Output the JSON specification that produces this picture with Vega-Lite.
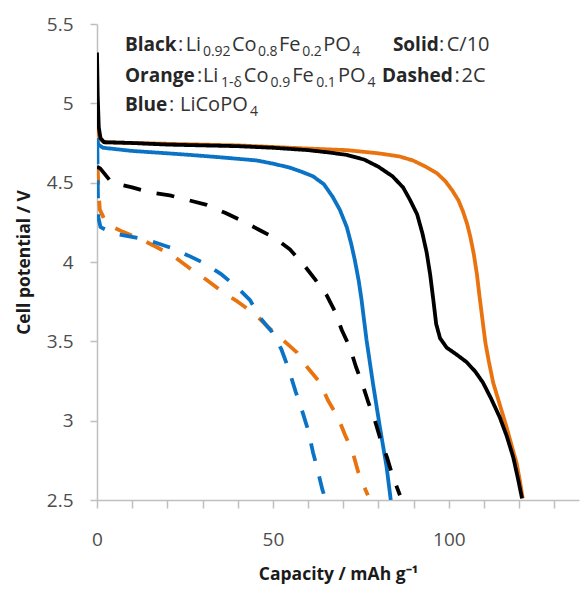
{
  "$schema": "https://vega.github.io/schema/vega-lite/v6.json",
  "width": 482,
  "height": 476,
  "autosize": {"type": "none"},
  "padding": {"left": 97, "top": 24, "right": 2, "bottom": 89},
  "config": {"view": {"stroke": null}, "font": "Open Sans"},
  "datasets": {
    "curves": [
      {"id": "orange-solid", "series": "orange", "rate": "C/10", "x": 0, "y": 4.98},
      {"id": "orange-solid", "series": "orange", "rate": "C/10", "x": 0.3, "y": 4.82},
      {"id": "orange-solid", "series": "orange", "rate": "C/10", "x": 1, "y": 4.77},
      {"id": "orange-solid", "series": "orange", "rate": "C/10", "x": 2, "y": 4.755},
      {"id": "orange-solid", "series": "orange", "rate": "C/10", "x": 10, "y": 4.75},
      {"id": "orange-solid", "series": "orange", "rate": "C/10", "x": 20, "y": 4.745},
      {"id": "orange-solid", "series": "orange", "rate": "C/10", "x": 30, "y": 4.74},
      {"id": "orange-solid", "series": "orange", "rate": "C/10", "x": 40, "y": 4.735},
      {"id": "orange-solid", "series": "orange", "rate": "C/10", "x": 50, "y": 4.725},
      {"id": "orange-solid", "series": "orange", "rate": "C/10", "x": 60, "y": 4.715},
      {"id": "orange-solid", "series": "orange", "rate": "C/10", "x": 71, "y": 4.705},
      {"id": "orange-solid", "series": "orange", "rate": "C/10", "x": 80, "y": 4.685},
      {"id": "orange-solid", "series": "orange", "rate": "C/10", "x": 86, "y": 4.665},
      {"id": "orange-solid", "series": "orange", "rate": "C/10", "x": 89.8, "y": 4.64},
      {"id": "orange-solid", "series": "orange", "rate": "C/10", "x": 93.5, "y": 4.6},
      {"id": "orange-solid", "series": "orange", "rate": "C/10", "x": 96.6, "y": 4.56},
      {"id": "orange-solid", "series": "orange", "rate": "C/10", "x": 99, "y": 4.51},
      {"id": "orange-solid", "series": "orange", "rate": "C/10", "x": 101, "y": 4.45},
      {"id": "orange-solid", "series": "orange", "rate": "C/10", "x": 102.7, "y": 4.39},
      {"id": "orange-solid", "series": "orange", "rate": "C/10", "x": 104, "y": 4.32},
      {"id": "orange-solid", "series": "orange", "rate": "C/10", "x": 105.2, "y": 4.24},
      {"id": "orange-solid", "series": "orange", "rate": "C/10", "x": 106.1, "y": 4.16},
      {"id": "orange-solid", "series": "orange", "rate": "C/10", "x": 107.1, "y": 4.05},
      {"id": "orange-solid", "series": "orange", "rate": "C/10", "x": 108, "y": 3.92},
      {"id": "orange-solid", "series": "orange", "rate": "C/10", "x": 108.8, "y": 3.77},
      {"id": "orange-solid", "series": "orange", "rate": "C/10", "x": 109.6, "y": 3.63},
      {"id": "orange-solid", "series": "orange", "rate": "C/10", "x": 110.4, "y": 3.49},
      {"id": "orange-solid", "series": "orange", "rate": "C/10", "x": 111.4, "y": 3.37},
      {"id": "orange-solid", "series": "orange", "rate": "C/10", "x": 112.6, "y": 3.24},
      {"id": "orange-solid", "series": "orange", "rate": "C/10", "x": 114.5, "y": 3.1},
      {"id": "orange-solid", "series": "orange", "rate": "C/10", "x": 116.4, "y": 2.96},
      {"id": "orange-solid", "series": "orange", "rate": "C/10", "x": 117.9, "y": 2.84},
      {"id": "orange-solid", "series": "orange", "rate": "C/10", "x": 119.3, "y": 2.73},
      {"id": "orange-solid", "series": "orange", "rate": "C/10", "x": 120.2, "y": 2.62},
      {"id": "orange-solid", "series": "orange", "rate": "C/10", "x": 121, "y": 2.51},

      {"id": "blue-solid", "series": "blue", "rate": "C/10", "x": 0, "y": 4.78},
      {"id": "blue-solid", "series": "blue", "rate": "C/10", "x": 0.4, "y": 4.74},
      {"id": "blue-solid", "series": "blue", "rate": "C/10", "x": 1.7, "y": 4.72},
      {"id": "blue-solid", "series": "blue", "rate": "C/10", "x": 10, "y": 4.7},
      {"id": "blue-solid", "series": "blue", "rate": "C/10", "x": 20, "y": 4.685},
      {"id": "blue-solid", "series": "blue", "rate": "C/10", "x": 26.4, "y": 4.675},
      {"id": "blue-solid", "series": "blue", "rate": "C/10", "x": 35, "y": 4.66},
      {"id": "blue-solid", "series": "blue", "rate": "C/10", "x": 45.4, "y": 4.64},
      {"id": "blue-solid", "series": "blue", "rate": "C/10", "x": 50, "y": 4.62},
      {"id": "blue-solid", "series": "blue", "rate": "C/10", "x": 54.8, "y": 4.595},
      {"id": "blue-solid", "series": "blue", "rate": "C/10", "x": 58, "y": 4.57},
      {"id": "blue-solid", "series": "blue", "rate": "C/10", "x": 61.4, "y": 4.54},
      {"id": "blue-solid", "series": "blue", "rate": "C/10", "x": 64.5, "y": 4.49},
      {"id": "blue-solid", "series": "blue", "rate": "C/10", "x": 67, "y": 4.41},
      {"id": "blue-solid", "series": "blue", "rate": "C/10", "x": 69, "y": 4.33},
      {"id": "blue-solid", "series": "blue", "rate": "C/10", "x": 71, "y": 4.22},
      {"id": "blue-solid", "series": "blue", "rate": "C/10", "x": 72.3, "y": 4.11},
      {"id": "blue-solid", "series": "blue", "rate": "C/10", "x": 73.3, "y": 4.01},
      {"id": "blue-solid", "series": "blue", "rate": "C/10", "x": 74.4, "y": 3.88},
      {"id": "blue-solid", "series": "blue", "rate": "C/10", "x": 75.2, "y": 3.76},
      {"id": "blue-solid", "series": "blue", "rate": "C/10", "x": 76.6, "y": 3.51},
      {"id": "blue-solid", "series": "blue", "rate": "C/10", "x": 78.4, "y": 3.24},
      {"id": "blue-solid", "series": "blue", "rate": "C/10", "x": 80.4, "y": 2.96},
      {"id": "blue-solid", "series": "blue", "rate": "C/10", "x": 82.3, "y": 2.71},
      {"id": "blue-solid", "series": "blue", "rate": "C/10", "x": 83.5, "y": 2.5},

      {"id": "black-solid", "series": "black", "rate": "C/10", "x": 0, "y": 5.32},
      {"id": "black-solid", "series": "black", "rate": "C/10", "x": 0.2, "y": 5.05},
      {"id": "black-solid", "series": "black", "rate": "C/10", "x": 0.5, "y": 4.85},
      {"id": "black-solid", "series": "black", "rate": "C/10", "x": 1, "y": 4.78},
      {"id": "black-solid", "series": "black", "rate": "C/10", "x": 2, "y": 4.755},
      {"id": "black-solid", "series": "black", "rate": "C/10", "x": 10, "y": 4.75},
      {"id": "black-solid", "series": "black", "rate": "C/10", "x": 20, "y": 4.74},
      {"id": "black-solid", "series": "black", "rate": "C/10", "x": 30, "y": 4.735},
      {"id": "black-solid", "series": "black", "rate": "C/10", "x": 40, "y": 4.73},
      {"id": "black-solid", "series": "black", "rate": "C/10", "x": 50, "y": 4.72},
      {"id": "black-solid", "series": "black", "rate": "C/10", "x": 60, "y": 4.705},
      {"id": "black-solid", "series": "black", "rate": "C/10", "x": 66, "y": 4.69},
      {"id": "black-solid", "series": "black", "rate": "C/10", "x": 71, "y": 4.675},
      {"id": "black-solid", "series": "black", "rate": "C/10", "x": 76, "y": 4.645},
      {"id": "black-solid", "series": "black", "rate": "C/10", "x": 80, "y": 4.6},
      {"id": "black-solid", "series": "black", "rate": "C/10", "x": 84, "y": 4.54},
      {"id": "black-solid", "series": "black", "rate": "C/10", "x": 87, "y": 4.47},
      {"id": "black-solid", "series": "black", "rate": "C/10", "x": 89, "y": 4.39},
      {"id": "black-solid", "series": "black", "rate": "C/10", "x": 91, "y": 4.3},
      {"id": "black-solid", "series": "black", "rate": "C/10", "x": 92.5, "y": 4.18},
      {"id": "black-solid", "series": "black", "rate": "C/10", "x": 93.7, "y": 4.06},
      {"id": "black-solid", "series": "black", "rate": "C/10", "x": 94.7, "y": 3.92},
      {"id": "black-solid", "series": "black", "rate": "C/10", "x": 95.6, "y": 3.76},
      {"id": "black-solid", "series": "black", "rate": "C/10", "x": 96.4, "y": 3.61},
      {"id": "black-solid", "series": "black", "rate": "C/10", "x": 97.5, "y": 3.52},
      {"id": "black-solid", "series": "black", "rate": "C/10", "x": 99.4, "y": 3.46},
      {"id": "black-solid", "series": "black", "rate": "C/10", "x": 102, "y": 3.42},
      {"id": "black-solid", "series": "black", "rate": "C/10", "x": 105, "y": 3.37},
      {"id": "black-solid", "series": "black", "rate": "C/10", "x": 107.5, "y": 3.31},
      {"id": "black-solid", "series": "black", "rate": "C/10", "x": 109.7, "y": 3.24},
      {"id": "black-solid", "series": "black", "rate": "C/10", "x": 112, "y": 3.14},
      {"id": "black-solid", "series": "black", "rate": "C/10", "x": 114.5, "y": 3.02},
      {"id": "black-solid", "series": "black", "rate": "C/10", "x": 116.5, "y": 2.9},
      {"id": "black-solid", "series": "black", "rate": "C/10", "x": 118.3, "y": 2.77},
      {"id": "black-solid", "series": "black", "rate": "C/10", "x": 119.7, "y": 2.63},
      {"id": "black-solid", "series": "black", "rate": "C/10", "x": 120.8, "y": 2.51},

      {"id": "orange-dashed", "series": "orange", "rate": "2C", "x": 0.2, "y": 4.6},
      {"id": "orange-dashed", "series": "orange", "rate": "2C", "x": 0.4, "y": 4.45},
      {"id": "orange-dashed", "series": "orange", "rate": "2C", "x": 0.8, "y": 4.33},
      {"id": "orange-dashed", "series": "orange", "rate": "2C", "x": 2.3, "y": 4.26},
      {"id": "orange-dashed", "series": "orange", "rate": "2C", "x": 4.5, "y": 4.22},
      {"id": "orange-dashed", "series": "orange", "rate": "2C", "x": 7.4, "y": 4.19},
      {"id": "orange-dashed", "series": "orange", "rate": "2C", "x": 12.8, "y": 4.14},
      {"id": "orange-dashed", "series": "orange", "rate": "2C", "x": 17.3, "y": 4.09},
      {"id": "orange-dashed", "series": "orange", "rate": "2C", "x": 22.2, "y": 4.03},
      {"id": "orange-dashed", "series": "orange", "rate": "2C", "x": 27, "y": 3.95},
      {"id": "orange-dashed", "series": "orange", "rate": "2C", "x": 31, "y": 3.89},
      {"id": "orange-dashed", "series": "orange", "rate": "2C", "x": 35.8, "y": 3.81},
      {"id": "orange-dashed", "series": "orange", "rate": "2C", "x": 40, "y": 3.75},
      {"id": "orange-dashed", "series": "orange", "rate": "2C", "x": 45, "y": 3.67},
      {"id": "orange-dashed", "series": "orange", "rate": "2C", "x": 48.6, "y": 3.59},
      {"id": "orange-dashed", "series": "orange", "rate": "2C", "x": 52.8, "y": 3.51},
      {"id": "orange-dashed", "series": "orange", "rate": "2C", "x": 56.8, "y": 3.43},
      {"id": "orange-dashed", "series": "orange", "rate": "2C", "x": 60, "y": 3.33},
      {"id": "orange-dashed", "series": "orange", "rate": "2C", "x": 63.4, "y": 3.24},
      {"id": "orange-dashed", "series": "orange", "rate": "2C", "x": 65.6, "y": 3.13},
      {"id": "orange-dashed", "series": "orange", "rate": "2C", "x": 68.5, "y": 3.02},
      {"id": "orange-dashed", "series": "orange", "rate": "2C", "x": 70.5, "y": 2.91},
      {"id": "orange-dashed", "series": "orange", "rate": "2C", "x": 72.7, "y": 2.8},
      {"id": "orange-dashed", "series": "orange", "rate": "2C", "x": 74.2, "y": 2.68},
      {"id": "orange-dashed", "series": "orange", "rate": "2C", "x": 76.4, "y": 2.56},
      {"id": "orange-dashed", "series": "orange", "rate": "2C", "x": 77, "y": 2.53},

      {"id": "blue-dashed", "series": "blue", "rate": "2C", "x": 0.1, "y": 4.73},
      {"id": "blue-dashed", "series": "blue", "rate": "2C", "x": 0.2, "y": 4.5},
      {"id": "blue-dashed", "series": "blue", "rate": "2C", "x": 0.4, "y": 4.28},
      {"id": "blue-dashed", "series": "blue", "rate": "2C", "x": 1, "y": 4.22},
      {"id": "blue-dashed", "series": "blue", "rate": "2C", "x": 4.5, "y": 4.18},
      {"id": "blue-dashed", "series": "blue", "rate": "2C", "x": 12, "y": 4.15},
      {"id": "blue-dashed", "series": "blue", "rate": "2C", "x": 15.6, "y": 4.13},
      {"id": "blue-dashed", "series": "blue", "rate": "2C", "x": 21, "y": 4.09},
      {"id": "blue-dashed", "series": "blue", "rate": "2C", "x": 26, "y": 4.04},
      {"id": "blue-dashed", "series": "blue", "rate": "2C", "x": 30.7, "y": 3.99},
      {"id": "blue-dashed", "series": "blue", "rate": "2C", "x": 35.5, "y": 3.92},
      {"id": "blue-dashed", "series": "blue", "rate": "2C", "x": 39.8, "y": 3.84},
      {"id": "blue-dashed", "series": "blue", "rate": "2C", "x": 43.5, "y": 3.76},
      {"id": "blue-dashed", "series": "blue", "rate": "2C", "x": 46.3, "y": 3.65},
      {"id": "blue-dashed", "series": "blue", "rate": "2C", "x": 49.7, "y": 3.56},
      {"id": "blue-dashed", "series": "blue", "rate": "2C", "x": 52.4, "y": 3.45},
      {"id": "blue-dashed", "series": "blue", "rate": "2C", "x": 54.4, "y": 3.33},
      {"id": "blue-dashed", "series": "blue", "rate": "2C", "x": 56.5, "y": 3.18},
      {"id": "blue-dashed", "series": "blue", "rate": "2C", "x": 58.2, "y": 3.07},
      {"id": "blue-dashed", "series": "blue", "rate": "2C", "x": 60, "y": 2.94},
      {"id": "blue-dashed", "series": "blue", "rate": "2C", "x": 61.4, "y": 2.8},
      {"id": "blue-dashed", "series": "blue", "rate": "2C", "x": 62.7, "y": 2.69},
      {"id": "blue-dashed", "series": "blue", "rate": "2C", "x": 64, "y": 2.57},
      {"id": "blue-dashed", "series": "blue", "rate": "2C", "x": 65, "y": 2.5},

      {"id": "black-dashed", "series": "black", "rate": "2C", "x": 0, "y": 4.6},
      {"id": "black-dashed", "series": "black", "rate": "2C", "x": 0.9, "y": 4.59},
      {"id": "black-dashed", "series": "black", "rate": "2C", "x": 4.2, "y": 4.5},
      {"id": "black-dashed", "series": "black", "rate": "2C", "x": 10, "y": 4.47},
      {"id": "black-dashed", "series": "black", "rate": "2C", "x": 15, "y": 4.44},
      {"id": "black-dashed", "series": "black", "rate": "2C", "x": 20.7, "y": 4.42},
      {"id": "black-dashed", "series": "black", "rate": "2C", "x": 25.9, "y": 4.39},
      {"id": "black-dashed", "series": "black", "rate": "2C", "x": 31.2, "y": 4.36},
      {"id": "black-dashed", "series": "black", "rate": "2C", "x": 36.4, "y": 4.31},
      {"id": "black-dashed", "series": "black", "rate": "2C", "x": 41.2, "y": 4.26},
      {"id": "black-dashed", "series": "black", "rate": "2C", "x": 46.3, "y": 4.2},
      {"id": "black-dashed", "series": "black", "rate": "2C", "x": 50.6, "y": 4.15},
      {"id": "black-dashed", "series": "black", "rate": "2C", "x": 54.8, "y": 4.08},
      {"id": "black-dashed", "series": "black", "rate": "2C", "x": 58.5, "y": 3.99},
      {"id": "black-dashed", "series": "black", "rate": "2C", "x": 62, "y": 3.89},
      {"id": "black-dashed", "series": "black", "rate": "2C", "x": 65.3, "y": 3.79},
      {"id": "black-dashed", "series": "black", "rate": "2C", "x": 67.6, "y": 3.69},
      {"id": "black-dashed", "series": "black", "rate": "2C", "x": 69.6, "y": 3.57},
      {"id": "black-dashed", "series": "black", "rate": "2C", "x": 71.9, "y": 3.46},
      {"id": "black-dashed", "series": "black", "rate": "2C", "x": 73.6, "y": 3.34},
      {"id": "black-dashed", "series": "black", "rate": "2C", "x": 75.6, "y": 3.22},
      {"id": "black-dashed", "series": "black", "rate": "2C", "x": 77.2, "y": 3.11},
      {"id": "black-dashed", "series": "black", "rate": "2C", "x": 79, "y": 3.0},
      {"id": "black-dashed", "series": "black", "rate": "2C", "x": 80.6, "y": 2.88},
      {"id": "black-dashed", "series": "black", "rate": "2C", "x": 82.4, "y": 2.77},
      {"id": "black-dashed", "series": "black", "rate": "2C", "x": 83.9, "y": 2.66},
      {"id": "black-dashed", "series": "black", "rate": "2C", "x": 86.1, "y": 2.53}
    ],
    "notes": [
      {"k": "b", "x": 7.95, "y": 5.328, "t": "Black"},
      {"k": "n", "x": 23.0, "y": 5.328, "t": ":"},
      {"k": "n", "x": 25.2, "y": 5.328, "t": "Li"},
      {"k": "s", "x": 30.11, "y": 5.328, "t": "0.92"},
      {"k": "n", "x": 38.35, "y": 5.328, "t": "Co"},
      {"k": "s", "x": 45.74, "y": 5.328, "t": "0.8"},
      {"k": "n", "x": 51.7, "y": 5.328, "t": "Fe"},
      {"k": "s", "x": 58.32, "y": 5.328, "t": "0.2"},
      {"k": "n", "x": 64.29, "y": 5.328, "t": "PO"},
      {"k": "s", "x": 72.53, "y": 5.328, "t": "4"},
      {"k": "b", "x": 84.1, "y": 5.328, "t": "Solid"},
      {"k": "n", "x": 97.2, "y": 5.328, "t": ":"},
      {"k": "n", "x": 99.4, "y": 5.328, "t": "C/10"},
      {"k": "b", "x": 7.95, "y": 5.1326, "t": "Orange"},
      {"k": "n", "x": 28.4, "y": 5.1326, "t": ":"},
      {"k": "n", "x": 30.11, "y": 5.1326, "t": "Li"},
      {"k": "s", "x": 35.23, "y": 5.1326, "t": "1-δ"},
      {"k": "n", "x": 41.73, "y": 5.1326, "t": "Co"},
      {"k": "s", "x": 49.32, "y": 5.1326, "t": "0.9"},
      {"k": "n", "x": 55.48, "y": 5.1326, "t": "Fe"},
      {"k": "s", "x": 62.3, "y": 5.1326, "t": "0.1"},
      {"k": "n", "x": 68.47, "y": 5.1326, "t": "PO"},
      {"k": "s", "x": 76.9, "y": 5.1326, "t": "4"},
      {"k": "b", "x": 81.0, "y": 5.1326, "t": "Dashed"},
      {"k": "n", "x": 101.6, "y": 5.1326, "t": ":"},
      {"k": "n", "x": 103.6, "y": 5.1326, "t": "2C"},
      {"k": "b", "x": 7.95, "y": 4.9498, "t": "Blue"},
      {"k": "n", "x": 20.45, "y": 4.9498, "t": ":"},
      {"k": "n", "x": 23.6, "y": 4.9498, "t": "LiCoPO"},
      {"k": "s", "x": 43.47, "y": 4.9498, "t": "4"}
    ]
  },
  "encoding": {
    "x": {
      "field": "x", "type": "quantitative",
      "scale": {"domain": [0, 137], "nice": false, "zero": false},
      "axis": {
        "values": [0, 10, 20, 30, 40, 50, 60, 70, 80, 90, 100, 110, 120, 130],
        "labelExpr": "datum.value % 50 === 0 ? '' + datum.value : ''",
        "grid": false,
        "domainColor": "#BFBFBF", "domainWidth": 1.5,
        "tickColor": "#BFBFBF", "tickWidth": 1.5, "tickSize": 8,
        "labelFont": "Open Sans", "labelFontSize": 19, "labelColor": "#4D4D4D",
        "labelPadding": 22, "labelFlush": false, "labelOverlap": false, "labelBound": false,
        "title": "Capacity / mAh g⁻¹",
        "titleFont": "Open Sans", "titleFontSize": 17.5, "titleFontWeight": "bold", "titleColor": "#1A1A1A",
        "titlePadding": 16
      }
    },
    "y": {
      "field": "y", "type": "quantitative",
      "scale": {"domain": [2.5, 5.5], "nice": false, "zero": false},
      "axis": {
        "values": [2.5, 3, 3.5, 4, 4.5, 5, 5.5],
        "labelExpr": "'' + datum.value",
        "grid": false,
        "domainColor": "#BFBFBF", "domainWidth": 1.5,
        "tickColor": "#BFBFBF", "tickWidth": 1.5, "tickSize": 7,
        "labelFont": "Open Sans", "labelFontSize": 19, "labelColor": "#4D4D4D",
        "labelPadding": 17, "labelFlush": false, "labelOverlap": false, "labelBound": false,
        "title": "Cell potential / V",
        "titleFont": "Open Sans", "titleFontSize": 17.5, "titleFontWeight": "bold", "titleColor": "#1A1A1A",
        "titlePadding": 13
      }
    }
  },
  "layer": [
    {
      "data": {"name": "curves"},
      "mark": {"type": "line", "strokeWidth": 3.8, "strokeCap": "butt", "strokeJoin": "round", "clip": true},
      "encoding": {
        "color": {
          "field": "series", "type": "nominal",
          "scale": {"domain": ["black", "orange", "blue"], "range": ["#000000", "#E8730F", "#0A73C6"]},
          "legend": null
        },
        "strokeDash": {
          "field": "rate", "type": "nominal",
          "scale": {"domain": ["C/10", "2C"], "range": [[1, 0], [18, 16]]},
          "legend": null
        },
        "detail": {"field": "id", "type": "nominal"}
      }
    },
    {
      "data": {"name": "notes"},
      "transform": [{"filter": "datum.k === 'b'"}],
      "mark": {"type": "text", "align": "left", "baseline": "alphabetic", "font": "Open Sans", "fontSize": 19, "fontWeight": "bold", "color": "#262626"},
      "encoding": {"text": {"field": "t"}}
    },
    {
      "data": {"name": "notes"},
      "transform": [{"filter": "datum.k === 'n'"}],
      "mark": {"type": "text", "align": "left", "baseline": "alphabetic", "font": "Open Sans", "fontSize": 20, "color": "#333333"},
      "encoding": {"text": {"field": "t"}}
    },
    {
      "data": {"name": "notes"},
      "transform": [{"filter": "datum.k === 's'"}],
      "mark": {"type": "text", "align": "left", "baseline": "alphabetic", "font": "Open Sans", "fontSize": 14, "dy": 5, "color": "#333333"},
      "encoding": {"text": {"field": "t"}}
    }
  ]
}
